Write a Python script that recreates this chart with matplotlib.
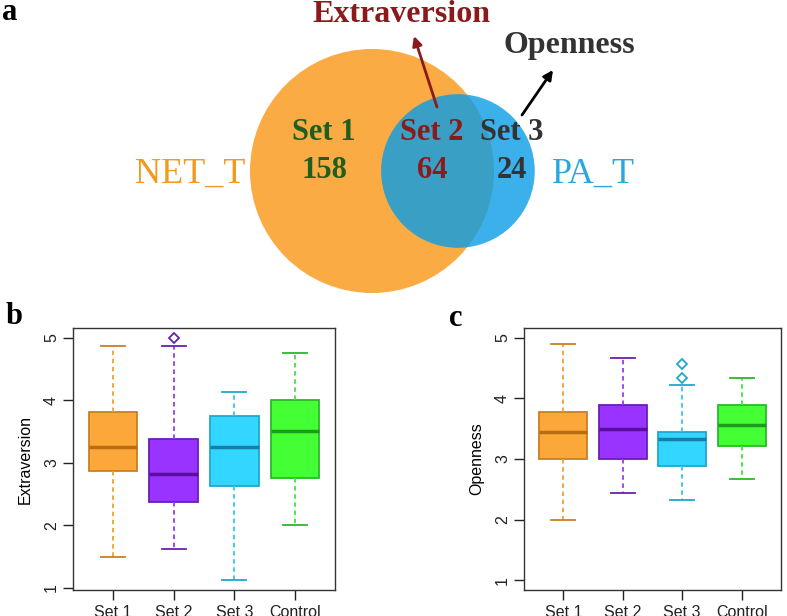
import numpy as np
import matplotlib
matplotlib.use("Agg")
import matplotlib.pyplot as plt
from matplotlib.patches import Circle

plt.rcParams["font.family"] = ["Liberation Sans", "DejaVu Sans"]

# ==========================
# Data
# ==========================

# Venn diagram counts (panel a)
venn_sets = ["NET_T", "PA_T"]
venn_labels = ["Set 1", "Set 2", "Set 3"]
venn_counts = [158, 64, 24]
venn_traits = ["Extraversion", "Openness"]

groups = ["Set 1", "Set 2", "Set 3", "Control"]

# panel b: Extraversion box statistics
ext_low = [1.5, 1.625, 1.125, 2.0]
ext_q1 = [2.875, 2.375, 2.625, 2.75]
ext_med = [3.25, 2.8125, 3.25, 3.5]
ext_q3 = [3.8125, 3.375, 3.75, 4.0]
ext_high = [4.875, 4.875, 4.125, 4.75]
ext_fliers = [[], [5.0], [], []]

# panel c: Openness box statistics
opn_low = [2.0, 2.44, 2.33, 2.67]
opn_q1 = [3.0, 3.0, 2.89, 3.22]
opn_med = [3.44, 3.5, 3.33, 3.56]
opn_q3 = [3.78, 3.89, 3.44, 3.89]
opn_high = [4.89, 4.67, 4.22, 4.33]
opn_fliers = [[], [], [4.56, 4.33], []]

# colours
fill_cols = ["#FBA73A", "#9933FF", "#33D6FF", "#44FF33"]
edge_cols = ["#C98020", "#6A1FB5", "#1FA8CC", "#2CB82C"]
med_cols = ["#B86E10", "#5A0FA0", "#137FA8", "#1E9A1E"]
whisk_cols = ["#F5A030", "#9A3AF0", "#33C8F0", "#44E044"]

W, H = 787, 616
fig = plt.figure(figsize=(W / 100, H / 100), dpi=100)

# ==========================
# Panel a: Venn diagram
# ==========================

ax_a = fig.add_axes([0, 1 - 300 / H, 1, 300 / H])
ax_a.set_xlim(0, W)
ax_a.set_ylim(300, 0)
ax_a.axis("off")

# circle areas proportional to set sizes
area_net = venn_counts[0] + venn_counts[1]
area_pa = venn_counts[1] + venn_counts[2]
scale = 122 / np.sqrt(area_net)
r1 = scale * np.sqrt(area_net)
r2 = scale * np.sqrt(area_pa)
target = venn_counts[1] * scale ** 2 * np.pi


def overlap(d, ra, rb):
    c1 = np.clip((d * d + ra * ra - rb * rb) / (2 * d * ra), -1, 1)
    c2 = np.clip((d * d + rb * rb - ra * ra) / (2 * d * rb), -1, 1)
    k = (-d + ra + rb) * (d + ra - rb) * (d - ra + rb) * (d + ra + rb)
    return ra * ra * np.arccos(c1) + rb * rb * np.arccos(c2) - 0.5 * np.sqrt(max(k, 0))


lo, hi = r1 - r2 + 1e-6, r1 + r2
for _ in range(60):
    mid = (lo + hi) / 2
    if overlap(mid, r1, r2) > target:
        lo = mid
    else:
        hi = mid
dist = (lo + hi) / 2

cx1, cy = 372, 171
cx2 = cx1 + dist

ax_a.add_patch(Circle((cx1, cy), r1, facecolor="#FBA73A", edgecolor="none", alpha=0.95))
ax_a.add_patch(Circle((cx2, cy), r2, facecolor="#0A9CE7", edgecolor="none", alpha=0.8))

serif = "Liberation Serif"

ax_a.text(190, 174, venn_sets[0], color="#F39A1E", fontsize=26, family=serif,
          ha="center", va="center")
ax_a.text(593, 174, venn_sets[1], color="#29A8E0", fontsize=26, family=serif,
          ha="center", va="center")

text_cols = ["#1E5E1E", "#8B1A1A", "#333333"]
label_x = [324, 432, 512]
for lab, cnt, x, c in zip(venn_labels, venn_counts, label_x, text_cols):
    ax_a.text(x, 133, lab, color=c, fontsize=22, family=serif, weight="bold",
              ha="center", va="center")
    ax_a.text(x, 171, str(cnt), color=c, fontsize=22, family=serif, weight="bold",
              ha="center", va="center")

ax_a.text(401, 14, venn_traits[0], color="#8B1A1A", fontsize=23, family=serif,
          weight="bold", ha="center", va="center")
ax_a.text(569, 46, venn_traits[1], color="#333333", fontsize=23, family=serif,
          weight="bold", ha="center", va="center")

ax_a.annotate("", xy=(414, 36), xytext=(437, 107),
              arrowprops=dict(arrowstyle="-|>", color="#8B1A1A", lw=2,
                              mutation_scale=14, shrinkA=0, shrinkB=0))
ax_a.annotate("", xy=(553, 70), xytext=(522, 115),
              arrowprops=dict(arrowstyle="-|>", color="black", lw=2,
                              mutation_scale=14, shrinkA=0, shrinkB=0))

ax_a.text(10, 13, "a", fontsize=22, family=serif, weight="bold",
          ha="center", va="center")

# ==========================
# Panels b and c: box plots
# ==========================


def draw_box(ax, lows, q1s, meds, q3s, highs, fliers, ylabel, ylim):
    stats = []
    for i in range(len(groups)):
        stats.append(dict(med=meds[i], q1=q1s[i], q3=q3s[i],
                          whislo=lows[i], whishi=highs[i], fliers=fliers[i]))
    pos = np.arange(1, len(groups) + 1)
    bp = ax.bxp(stats, positions=pos, widths=0.8, patch_artist=True,
                showfliers=True, manage_ticks=False)
    for i in range(len(groups)):
        bp["boxes"][i].set_facecolor(fill_cols[i])
        bp["boxes"][i].set_edgecolor(edge_cols[i])
        bp["boxes"][i].set_linewidth(1.3)
        bp["medians"][i].set_color(med_cols[i])
        bp["medians"][i].set_linewidth(2.5)
        for w in bp["whiskers"][2 * i:2 * i + 2]:
            w.set_color(whisk_cols[i])
            w.set_linestyle((0, (2.5, 2)))
            w.set_linewidth(1.3)
        for cp in bp["caps"][2 * i:2 * i + 2]:
            cp.set_color(edge_cols[i])
            cp.set_linewidth(1.3)
        fl = bp["fliers"][i]
        fl.set_marker("D")
        fl.set_markersize(5)
        fl.set_markerfacecolor("none")
        fl.set_markeredgecolor(edge_cols[i])
        fl.set_markeredgewidth(1.3)

    ax.set_xlim(0.34, 4.66)
    ax.set_ylim(*ylim)
    ax.set_xticks(pos)
    ax.set_xticklabels(groups)
    ax.set_yticks([1, 2, 3, 4, 5])
    ax.tick_params(direction="out", length=7, width=1, labelsize=11.5,
                   colors="#222222")
    ax.tick_params(axis="y", labelrotation=90, pad=3)
    for lab in ax.get_yticklabels():
        lab.set_va("center")
    for s in ax.spines.values():
        s.set_color("#333333")
        s.set_linewidth(1)
    ax.set_ylabel(ylabel, fontsize=11.5, labelpad=8)


ax_b = fig.add_axes([73 / W, 1 - 590 / H, 262 / W, 262 / H])
draw_box(ax_b, ext_low, ext_q1, ext_med, ext_q3, ext_high, ext_fliers,
         "Extraversion", (0.965, 5.155))

ax_c = fig.add_axes([524 / W, 1 - 590 / H, 257 / W, 262 / H])
draw_box(ax_c, opn_low, opn_q1, opn_med, opn_q3, opn_high, opn_fliers,
         "Openness", (0.84, 5.16))

fig.text(14 / W, 1 - 316 / H, "b", fontsize=22, family=serif, weight="bold",
         ha="center", va="center")
fig.text(456 / W, 1 - 318 / H, "c", fontsize=22, family=serif, weight="bold",
         ha="center", va="center")

fig.savefig("out.png", dpi=100)
